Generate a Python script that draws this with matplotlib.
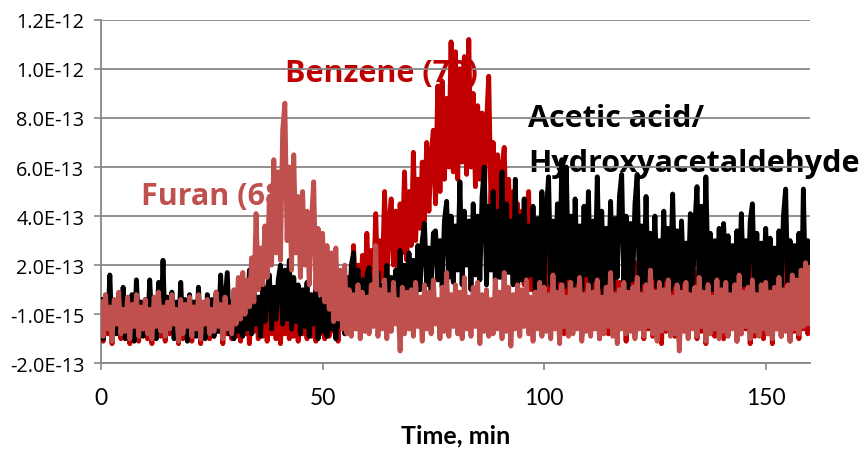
import numpy as np
import matplotlib
matplotlib.use("Agg")
import matplotlib.pyplot as plt

plt.rcParams['font.family'] = ['Lato', 'DejaVu Sans']

# sampling step of the traces, minutes
step_min = 0.5
unit = 1e-14  # values below are in units of 1e-14

furan = [
    5, -9, 8, -6, 3, -11, 6, -4, 9, -8, 2, -7, 7, -10, 4, -5, 8, -9, 3, -6,
    6, -8, 2, -10, 7, -5, 9, -7, 3, -9, 5, -6, 8, -4, 2, -11, 6, -8, 4, -5,
    7, -9, 3, -6, 8, -10, 5, -4, 6, -8, 2, -7, 9, -5, 4, -10, 7, -6, 3, -8,
    10, -4, 15, -2, 17, 0, 14, 3, 23, 5, 41, 10, 27, 12, 36, 15, 48, 20, 63, 25,
    58, 22, 75, 86, 30, 60, 18, 65, 25, 48, 15, 50, 20, 42, 12, 38, 54, 10, 35, 8,
    33, 5, 28, 2, 25, -3, 27, -2, 18, -6, 20, -8, 10, -9, 8, -6, 12, -10, 9, -7,
    7, -8, 12, -5, 28, -9, 10, -6, 14, -10, 8, -7, 13, -4, 6, -15, 11, -8, 9, -6,
    10, -9, 13, -5, 7, -11, 12, -6, 9, -8, 14, -4, 6, -10, 11, -7, 17, -9, 8, -5,
    12, -8, 9, -10, 15, -6, 7, -9, 11, -5, 13, -12, 8, -7, 10, -9, 6, -8, 14, -6,
    9, -10, 17, -7, 11, -13, 8, -6, 12, -9, 10, -5, 14, -8, 7, -11, 9, -6, 13, -9,
    11, -7, 8, -10, 16, -6, 9, -12, 12, -5, 7, -9, 13, -8, 10, -6, 15, -11, 8, -7,
    12, -9, 9, -6, 14, -10, 7, -8, 11, -5, 17, -9, 8, -12, 10, -6, 13, -8, 9, -7,
    11, -10, 15, -6, 8, -9, 12, -5, 18, -8, 9, -11, 13, -7, 10, -6, 14, -9, 7, -8,
    12, -15, 9, -7, 13, -10, 8, -6, 11, -9, 15, -5, 9, -11, 12, -8, 7, -6, 14, -10,
    10, -7, 13, -9, 8, -6, 12, -11, 16, -8, 9, -5, 11, -10, 14, -7, 8, -9, 12, -6,
    13, -8, 9, -10, 11, -6, 15, -9, 10, -7, 12, -11, 16, -6, 14, -8, 18, -5, 21, -4,
    19,
]

benzene = [
    4, -11, 7, -8, 2, -12, 5, -6, 8, -10, 3, -9, 6, -12, 3, -7, 7, -11, 2, -8,
    5, -10, 3, -12, 6, -7, 8, -9, 2, -11, 4, -8, 7, -6, 3, -12, 5, -10, 3, -7,
    6, -11, 2, -8, 7, -12, 4, -6, 5, -10, 3, -9, 8, -7, 3, -12, 6, -8, 2, -10,
    5, -9, 7, -11, 4, -8, 6, -12, 8, -7, 5, -10, 7, -9, 4, -11, 6, -8, 9, -10,
    7, -12, 5, -8, 8, -10, 4, -9, 6, -11, 7, -8, 5, -10, 8, -9, 6, -11, 4, -8,
    7, -10, 5, -9, 8, -7, 6, -11, 9, -6, 12, -4, 15, -2, 28, 0, 20, 2, 24, 5,
    33, 6, 26, 10, 41, 8, 30, 14, 50, 12, 38, 47, 20, 42, 18, 45, 25, 58, 22, 50,
    28, 66, 30, 55, 35, 62, 38, 70, 42, 65, 75, 45, 93, 50, 95, 55, 88, 60, 111, 58,
    107, 55, 100, 62, 105, 57, 112, 60, 90, 52, 85, 55, 82, 48, 78, 97, 45, 70, 40, 65,
    35, 60, 68, 30, 55, 25, 50, 20, 45, 15, 42, 12, 38, 50, 10, 35, 8, 30, 5, 32,
    28, -2, 25, 5, 30, -5, 22, 3, 18, -8, 24, 0, 15, -6, 20, 2, 26, -9, 17, -4,
    19, -7, 14, -3, 22, -10, 16, 0, 12, -8, 17, -5, 20, -9, 13, -2, 18, -11, 15, -6,
    16, -8, 21, -4, 14, -10, 37, -6, 19, -9, 15, -3, 23, -12, 17, -7, 12, -5, 20, -9,
    14, -11, 18, -6, 22, -8, 13, -4, 17, -10, 24, -7, 15, -12, 19, -5, 12, -9, 16, -6,
    18, -10, 13, -7, 21, -5, 15, -11, 19, -8, 14, -6, 17, -12, 22, -9, 13, -4, 18, -10,
    15, -8, 20, -12, 14, -6, 17, -9, 22, -5, 13, -11, 18, -7, 16, -10, 20, -6, 15, -8,
    12,
]

acetic = [
    6, -10, 4, -6, 16, -9, 5, -8, 7, -6, 11, -10, 5, -7, 8, -11, 14, -6, 5, -9,
    6, -8, 14, -5, 4, -10, 13, -7, 22, -9, 7, -6, 9, -10, 5, -7, 13, -8, 6, -11,
    8, -6, 5, -9, 11, -7, 4, -10, 8, -6, 6, -9, 9, -7, 16, -5, 6, 17, -8, 5,
    -10, 6, -7, 4, -9, 8, -6, 18, -8, 10, -4, 7, -9, 12, -3, 9, 16, -6, 11, -2,
    14, 20, -4, 18, -2, 22, -6, 15, -3, 12, -8, 10, -5, 13, -9, 8, -4, 11, -10, 6,
    -7, 9, -9, 5, -6, 10, -10, 7, -5, 12, -8, 15, -3, 20, 25, -2, 18, 0, 14, -4,
    16, 19, -1, 14, 2, 17, -3, 12, 4, 20, 0, 15, 5, 18, 2, 26, 6, 20, 3, 25,
    8, 22, 5, 28, 10, 30, 37, 12, 27, 9, 33, 34, 14, 30, 11, 38, 46, 15, 40, 13,
    36, 18, 54, 12, 42, 20, 38, 10, 45, 16, 40, 14, 48, 60, 12, 44, 18, 50, 11, 42,
    15, 58, 10, 45, 17, 38, 12, 55, 9, 40, 14, 47, 11, 36, 16, 44, 8, 39, 13, 50,
    10, 42, 56, 12, 38, 9, 45, 14, 63, 11, 60, 15, 40, 8, 47, 13, 36, 10, 44, 16,
    50, 9, 38, 14, 56, 11, 42, 7, 35, 13, 46, 10, 39, 15, 48, 57, 12, 40, 9, 37,
    14, 45, 57, 10, 36, 13, 48, 8, 33, 15, 40, 11, 30, 9, 42, 14, 35, 10, 49, 12,
    34, 7, 38, 13, 29, 10, 41, 8, 36, 52, 11, 44, 9, 56, 14, 33, 10, 30, 12, 35,
    8, 37, 13, 32, 9, 28, 11, 34, 7, 41, 12, 30, 9, 38, 45, 10, 33, 8, 29, 12,
    35, 7, 31, 11, 27, 6, 34, 10, 40, 51, 8, 30, -2, 28, 5, 33, -4, 51, 6, 30,
    2,
]

y_ticks = [-2e-13, 0.0, 2e-13, 4e-13, 6e-13, 8e-13, 1.0e-12, 1.2e-12]
y_tick_labels = ["-2.0E-13", "-1.0E-15", "2.0E-13", "4.0E-13", "6.0E-13",
                 "8.0E-13", "1.0E-12", "1.2E-12"]
x_ticks = [0, 50, 100, 150]

def times(vals):
    return np.arange(len(vals)) * step_min

def scaled(vals):
    return np.asarray(vals, dtype=float) * unit

fig = plt.figure(figsize=(8.63, 4.52), dpi=100)
ax = fig.add_axes([0.117, 0.194, 0.8216, 0.760])

grid_c = '#878787'
lw = 3.5
ax.plot(times(benzene), scaled(benzene), color='#C00000', lw=lw, zorder=3,
        solid_joinstyle='round')
ax.plot(times(acetic), scaled(acetic), color='#000000', lw=lw, zorder=4,
        solid_joinstyle='round')
ax.plot(times(furan), scaled(furan), color='#C0504D', lw=lw, zorder=5,
        solid_joinstyle='round')

ax.set_xlim(0, 160)
ax.set_ylim(-2e-13, 1.2e-12)
ax.set_yticks(y_ticks)
ax.set_yticklabels(y_tick_labels, family=['Open Sans', 'DejaVu Sans'])
ax.set_xticks(x_ticks)
ax.set_xticklabels([str(v) for v in x_ticks])

for y in y_ticks:
    ax.axhline(y, color=grid_c, lw=1.3, zorder=1.2)

for s in ['top', 'right']:
    ax.spines[s].set_visible(False)
for s in ['left', 'bottom']:
    ax.spines[s].set_color(grid_c)
    ax.spines[s].set_linewidth(1.3)
    ax.spines[s].set_zorder(1.5)

ax.tick_params(axis='y', direction='out', length=5, width=1.2, color=grid_c,
               labelsize=14.3, pad=7)
ax.tick_params(axis='x', direction='out', length=5, width=1.2, color=grid_c,
               labelsize=16.5, pad=12)
ax.set_xlabel("Time, min", fontsize=18, fontweight='bold')
ax.xaxis.set_label_coords(0.5, -0.175)

txt_kw = dict(fontweight='bold', fontsize=22, zorder=1, va='baseline',
              ha='left', clip_on=False, family=['Open Sans', 'DejaVu Sans'])
ax.text(41.5, 9.5e-13, "Benzene (78)", color='#C00000', **txt_kw)
ax.text(9.0, 4.5e-13, "Furan (68)", color='#C0504D', **txt_kw)
ax.text(96.4, 7.67e-13, "Acetic acid/", color='#000000', **txt_kw)
ax.text(96.4, 5.84e-13, "Hydroxyacetaldehyde", color='#000000', **txt_kw)

fig.savefig("out.png", dpi=100)
